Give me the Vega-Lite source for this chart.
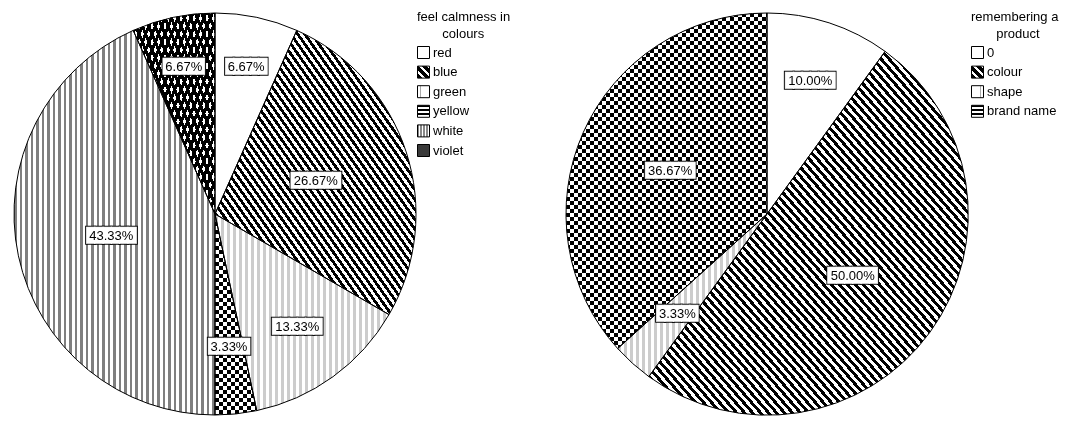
{
  "$schema": "https://vega.github.io/schema/vega-lite/v6.json",
  "padding": {"left": 12, "top": 9, "right": 0, "bottom": 0},
  "background": "white",
  "bounds": "flush",
  "spacing": 150,
  "config": {
    "view": {"stroke": null},
    "legend": {
      "titleFont": "Liberation Sans", "titleFontSize": 13, "titleFontWeight": "normal", "titleColor": "#000",
      "titleLineHeight": 17, "titlePadding": 5, "titleAnchor": "start", "titleAlign": "left",
      "labelFont": "Liberation Sans", "labelFontSize": 13, "labelColor": "#000", "labelOffset": 3,
      "rowPadding": 2.6, "padding": 0, "symbolOffset": 0
    }
  },
  "params": [
    {"name": "K", "value": "#000"},
    {"name": "W", "value": "#fff"},
    {"name": "G", "value": "#888"},
    {"name": "L", "value": "#aaa"},
    {"name": "s80", "expr": "[{offset:0,color:K},{offset:.00625,color:K},{offset:.00625,color:W},{offset:.0125,color:W},{offset:.0125,color:K},{offset:.01875,color:K},{offset:.01875,color:W},{offset:.025,color:W},{offset:.025,color:K},{offset:.03125,color:K},{offset:.03125,color:W},{offset:.0375,color:W},{offset:.0375,color:K},{offset:.04375,color:K},{offset:.04375,color:W},{offset:.05,color:W},{offset:.05,color:K},{offset:.05625,color:K},{offset:.05625,color:W},{offset:.0625,color:W},{offset:.0625,color:K},{offset:.06875,color:K},{offset:.06875,color:W},{offset:.075,color:W},{offset:.075,color:K},{offset:.08125,color:K},{offset:.08125,color:W},{offset:.0875,color:W},{offset:.0875,color:K},{offset:.09375,color:K},{offset:.09375,color:W},{offset:.1,color:W},{offset:.1,color:K},{offset:.10625,color:K},{offset:.10625,color:W},{offset:.1125,color:W},{offset:.1125,color:K},{offset:.11875,color:K},{offset:.11875,color:W},{offset:.125,color:W},{offset:.125,color:K},{offset:.13125,color:K},{offset:.13125,color:W},{offset:.1375,color:W},{offset:.1375,color:K},{offset:.14375,color:K},{offset:.14375,color:W},{offset:.15,color:W},{offset:.15,color:K},{offset:.15625,color:K},{offset:.15625,color:W},{offset:.1625,color:W},{offset:.1625,color:K},{offset:.16875,color:K},{offset:.16875,color:W},{offset:.175,color:W},{offset:.175,color:K},{offset:.18125,color:K},{offset:.18125,color:W},{offset:.1875,color:W},{offset:.1875,color:K},{offset:.19375,color:K},{offset:.19375,color:W},{offset:.2,color:W},{offset:.2,color:K},{offset:.20625,color:K},{offset:.20625,color:W},{offset:.2125,color:W},{offset:.2125,color:K},{offset:.21875,color:K},{offset:.21875,color:W},{offset:.225,color:W},{offset:.225,color:K},{offset:.23125,color:K},{offset:.23125,color:W},{offset:.2375,color:W},{offset:.2375,color:K},{offset:.24375,color:K},{offset:.24375,color:W},{offset:.25,color:W},{offset:.25,color:K},{offset:.25625,color:K},{offset:.25625,color:W},{offset:.2625,color:W},{offset:.2625,color:K},{offset:.26875,color:K},{offset:.26875,color:W},{offset:.275,color:W},{offset:.275,color:K},{offset:.28125,color:K},{offset:.28125,color:W},{offset:.2875,color:W},{offset:.2875,color:K},{offset:.29375,color:K},{offset:.29375,color:W},{offset:.3,color:W},{offset:.3,color:K},{offset:.30625,color:K},{offset:.30625,color:W},{offset:.3125,color:W},{offset:.3125,color:K},{offset:.31875,color:K},{offset:.31875,color:W},{offset:.325,color:W},{offset:.325,color:K},{offset:.33125,color:K},{offset:.33125,color:W},{offset:.3375,color:W},{offset:.3375,color:K},{offset:.34375,color:K},{offset:.34375,color:W},{offset:.35,color:W},{offset:.35,color:K},{offset:.35625,color:K},{offset:.35625,color:W},{offset:.3625,color:W},{offset:.3625,color:K},{offset:.36875,color:K},{offset:.36875,color:W},{offset:.375,color:W},{offset:.375,color:K},{offset:.38125,color:K},{offset:.38125,color:W},{offset:.3875,color:W},{offset:.3875,color:K},{offset:.39375,color:K},{offset:.39375,color:W},{offset:.4,color:W},{offset:.4,color:K},{offset:.40625,color:K},{offset:.40625,color:W},{offset:.4125,color:W},{offset:.4125,color:K},{offset:.41875,color:K},{offset:.41875,color:W},{offset:.425,color:W},{offset:.425,color:K},{offset:.43125,color:K},{offset:.43125,color:W},{offset:.4375,color:W},{offset:.4375,color:K},{offset:.44375,color:K},{offset:.44375,color:W},{offset:.45,color:W},{offset:.45,color:K},{offset:.45625,color:K},{offset:.45625,color:W},{offset:.4625,color:W},{offset:.4625,color:K},{offset:.46875,color:K},{offset:.46875,color:W},{offset:.475,color:W},{offset:.475,color:K},{offset:.48125,color:K},{offset:.48125,color:W},{offset:.4875,color:W},{offset:.4875,color:K},{offset:.49375,color:K},{offset:.49375,color:W},{offset:.5,color:W},{offset:.5,color:K},{offset:.50625,color:K},{offset:.50625,color:W},{offset:.5125,color:W},{offset:.5125,color:K},{offset:.51875,color:K},{offset:.51875,color:W},{offset:.525,color:W},{offset:.525,color:K},{offset:.53125,color:K},{offset:.53125,color:W},{offset:.5375,color:W},{offset:.5375,color:K},{offset:.54375,color:K},{offset:.54375,color:W},{offset:.55,color:W},{offset:.55,color:K},{offset:.55625,color:K},{offset:.55625,color:W},{offset:.5625,color:W},{offset:.5625,color:K},{offset:.56875,color:K},{offset:.56875,color:W},{offset:.575,color:W},{offset:.575,color:K},{offset:.58125,color:K},{offset:.58125,color:W},{offset:.5875,color:W},{offset:.5875,color:K},{offset:.59375,color:K},{offset:.59375,color:W},{offset:.6,color:W},{offset:.6,color:K},{offset:.60625,color:K},{offset:.60625,color:W},{offset:.6125,color:W},{offset:.6125,color:K},{offset:.61875,color:K},{offset:.61875,color:W},{offset:.625,color:W},{offset:.625,color:K},{offset:.63125,color:K},{offset:.63125,color:W},{offset:.6375,color:W},{offset:.6375,color:K},{offset:.64375,color:K},{offset:.64375,color:W},{offset:.65,color:W},{offset:.65,color:K},{offset:.65625,color:K},{offset:.65625,color:W},{offset:.6625,color:W},{offset:.6625,color:K},{offset:.66875,color:K},{offset:.66875,color:W},{offset:.675,color:W},{offset:.675,color:K},{offset:.68125,color:K},{offset:.68125,color:W},{offset:.6875,color:W},{offset:.6875,color:K},{offset:.69375,color:K},{offset:.69375,color:W},{offset:.7,color:W},{offset:.7,color:K},{offset:.70625,color:K},{offset:.70625,color:W},{offset:.7125,color:W},{offset:.7125,color:K},{offset:.71875,color:K},{offset:.71875,color:W},{offset:.725,color:W},{offset:.725,color:K},{offset:.73125,color:K},{offset:.73125,color:W},{offset:.7375,color:W},{offset:.7375,color:K},{offset:.74375,color:K},{offset:.74375,color:W},{offset:.75,color:W},{offset:.75,color:K},{offset:.75625,color:K},{offset:.75625,color:W},{offset:.7625,color:W},{offset:.7625,color:K},{offset:.76875,color:K},{offset:.76875,color:W},{offset:.775,color:W},{offset:.775,color:K},{offset:.78125,color:K},{offset:.78125,color:W},{offset:.7875,color:W},{offset:.7875,color:K},{offset:.79375,color:K},{offset:.79375,color:W},{offset:.8,color:W},{offset:.8,color:K},{offset:.80625,color:K},{offset:.80625,color:W},{offset:.8125,color:W},{offset:.8125,color:K},{offset:.81875,color:K},{offset:.81875,color:W},{offset:.825,color:W},{offset:.825,color:K},{offset:.83125,color:K},{offset:.83125,color:W},{offset:.8375,color:W},{offset:.8375,color:K},{offset:.84375,color:K},{offset:.84375,color:W},{offset:.85,color:W},{offset:.85,color:K},{offset:.85625,color:K},{offset:.85625,color:W},{offset:.8625,color:W},{offset:.8625,color:K},{offset:.86875,color:K},{offset:.86875,color:W},{offset:.875,color:W},{offset:.875,color:K},{offset:.88125,color:K},{offset:.88125,color:W},{offset:.8875,color:W},{offset:.8875,color:K},{offset:.89375,color:K},{offset:.89375,color:W},{offset:.9,color:W},{offset:.9,color:K},{offset:.90625,color:K},{offset:.90625,color:W},{offset:.9125,color:W},{offset:.9125,color:K},{offset:.91875,color:K},{offset:.91875,color:W},{offset:.925,color:W},{offset:.925,color:K},{offset:.93125,color:K},{offset:.93125,color:W},{offset:.9375,color:W},{offset:.9375,color:K},{offset:.94375,color:K},{offset:.94375,color:W},{offset:.95,color:W},{offset:.95,color:K},{offset:.95625,color:K},{offset:.95625,color:W},{offset:.9625,color:W},{offset:.9625,color:K},{offset:.96875,color:K},{offset:.96875,color:W},{offset:.975,color:W},{offset:.975,color:K},{offset:.98125,color:K},{offset:.98125,color:W},{offset:.9875,color:W},{offset:.9875,color:K},{offset:.99375,color:K},{offset:.99375,color:W},{offset:1,color:W}]"},
    {"name": "gBlueL", "expr": "{gradient:'linear',x1:0,y1:1,x2:1.39,y2:-0.39,stops:s80}"},
    {"name": "gGreenL", "expr": "{gradient:'linear',x1:0,y1:0,x2:2.76,y2:0,stops:s80}"},
    {"name": "gYH", "expr": "{gradient:'linear',x1:0,y1:0,x2:0,y2:3.18,stops:s80}"},
    {"name": "gYV", "expr": "{gradient:'linear',x1:0,y1:0,x2:15.3,y2:0,stops:s80}"},
    {"name": "gWhiteL", "expr": "{gradient:'linear',x1:0,y1:0,x2:2.19,y2:0,stops:s80}"},
    {"name": "gVioA", "expr": "{gradient:'linear',x1:0,y1:1,x2:3.16,y2:-2.16,stops:s80}"},
    {"name": "gVioB", "expr": "{gradient:'linear',x1:0,y1:0,x2:3.16,y2:3.16,stops:s80}"},
    {"name": "gColR", "expr": "{gradient:'linear',x1:0,y1:1,x2:1,y2:0,stops:s80}"},
    {"name": "gShR", "expr": "{gradient:'linear',x1:0,y1:0,x2:3.21,y2:0,stops:s80}"},
    {"name": "gBrH", "expr": "{gradient:'linear',x1:0,y1:0,x2:0,y2:1.91,stops:s80}"},
    {"name": "gBrV", "expr": "{gradient:'linear',x1:0,y1:0,x2:3.18,y2:0,stops:s80}"},
    {"name": "lgD", "expr": "{gradient:'linear',x1:0,y1:1,x2:1,y2:0,stops:[{offset:0,color:K},{offset:.2,color:K},{offset:.2,color:W},{offset:.333,color:W},{offset:.333,color:K},{offset:.533,color:K},{offset:.533,color:W},{offset:.667,color:W},{offset:.667,color:K},{offset:.867,color:K},{offset:.867,color:W},{offset:1,color:W}]}"},
    {"name": "lgWg", "expr": "{gradient:'linear',x1:0,y1:0,x2:1,y2:0,stops:[{offset:0,color:G},{offset:.125,color:G},{offset:.125,color:W},{offset:.25,color:W},{offset:.25,color:G},{offset:.375,color:G},{offset:.375,color:W},{offset:.5,color:W},{offset:.5,color:G},{offset:.625,color:G},{offset:.625,color:W},{offset:.75,color:W},{offset:.75,color:G},{offset:.875,color:G},{offset:.875,color:W},{offset:1,color:W}]}"},
    {"name": "lgGl", "expr": "{gradient:'linear',x1:0,y1:0,x2:1,y2:0,stops:[{offset:0,color:W},{offset:.25,color:W},{offset:.25,color:L},{offset:.33,color:L},{offset:.33,color:W},{offset:.67,color:W},{offset:.67,color:L},{offset:.75,color:L},{offset:.75,color:W},{offset:1,color:W}]}"},
    {"name": "lgChk", "expr": "{gradient:'linear',x1:0,y1:0,x2:0,y2:1,stops:[{offset:0,color:K},{offset:.167,color:K},{offset:.167,color:W},{offset:.333,color:W},{offset:.333,color:K},{offset:.5,color:K},{offset:.5,color:W},{offset:.667,color:W},{offset:.667,color:K},{offset:.833,color:K},{offset:.833,color:W},{offset:1,color:W}]}"}
  ],
  "hconcat": [
    {
      "width": 402,
      "height": 410,
      "data": {"values": [
        {"colour": "red", "code": 1, "pct": 6.67, "label": "6.67%"},
        {"colour": "blue", "code": 2, "pct": 26.67, "label": "26.67%"},
        {"colour": "green", "code": 3, "pct": 13.33, "label": "13.33%"},
        {"colour": "yellow", "code": 4, "pct": 3.33, "label": "3.33%"},
        {"colour": "white", "code": 5, "pct": 43.33, "label": "43.33%"},
        {"colour": "violet", "code": 6, "pct": 6.67, "label": "6.67%"}
      ]},
      "encoding": {
        "theta": {"field": "pct", "type": "quantitative", "stack": true},
        "order": {"field": "code", "type": "quantitative"},
        "detail": {"field": "colour", "type": "nominal"}
      },
      "resolve": {"scale": {"fill": "independent"}},
      "layer": [
        {
          "mark": {"type": "arc", "radius": 0, "stroke": "#000", "strokeWidth": 1},
          "encoding": {
            "fill": {
              "field": "colour", "type": "nominal",
              "scale": {
                "domain": ["red", "blue", "green", "yellow", "white", "violet"],
                "range": ["#fff", {"expr": "lgD"}, {"expr": "lgGl"}, {"expr": "lgChk"}, {"expr": "lgWg"}, "#3a3a3a"]
              },
              "legend": {
                "title": ["feel calmness in", "\u200b\u00a0\u00a0\u00a0\u00a0\u00a0\u00a0\u00a0colours"],
                "orient": "none", "legendX": 403, "legendY": 2,
                "symbolType": "square", "symbolSize": 144, "symbolStrokeColor": "#000", "symbolStrokeWidth": 1
              }
            }
          }
        },
        {
          "mark": {"type": "arc", "fillOpacity": {"expr": "datum.colour === 'green' ? 0.2 : datum.colour === 'white' ? 0.5 : 1"}},
          "encoding": {
            "fill": {
              "field": "colour", "type": "nominal",
              "scale": {
                "domain": ["red", "blue", "green", "yellow", "white", "violet"],
                "range": ["#fff", {"expr": "gBlueL"}, {"expr": "gGreenL"}, {"expr": "gYH"}, {"expr": "gWhiteL"}, {"expr": "gVioA"}]
              },
              "legend": null
            }
          }
        },
        {"mark": {"type": "arc", "blend": "difference", "fill": {"expr": "datum.colour === 'yellow' ? gYV : 'transparent'"}}},
        {"mark": {"type": "arc", "blend": "multiply", "fill": {"expr": "datum.colour === 'violet' ? gVioB : 'transparent'"}}},
        {"mark": {"type": "arc", "fillOpacity": 0, "stroke": "#000", "strokeWidth": 1}},
        {"mark": {"type": "text", "text": {"expr": "length(datum.label) > 5 ? '██████' : '█████'"}, "font": "DejaVu Sans Mono", "fontSize": 13.8, "radius": {"expr": "datum.pct < 5 ? 134 : datum.pct < 8 ? 150 : datum.pct < 25 ? 140 : 106"}, "fill": "#000", "stroke": "#000", "strokeWidth": 2.6, "align": "center", "baseline": "middle"}},
        {"mark": {"type": "text", "text": {"expr": "length(datum.label) > 5 ? '██████' : '█████'"}, "font": "DejaVu Sans Mono", "fontSize": 13.8, "radius": {"expr": "datum.pct < 5 ? 134 : datum.pct < 8 ? 150 : datum.pct < 25 ? 140 : 106"}, "fill": "#fff", "stroke": "#fff", "strokeWidth": 0.6, "align": "center", "baseline": "middle"}},
        {"mark": {"type": "text", "font": "Liberation Sans", "fontSize": 13, "radius": {"expr": "datum.pct < 5 ? 134 : datum.pct < 8 ? 150 : datum.pct < 25 ? 140 : 106"}, "fill": "#000", "align": "center", "baseline": "middle"},
         "encoding": {"text": {"field": "label", "type": "nominal"}}}
      ]
    },
    {
      "width": 402,
      "height": 410,
      "data": {"values": [
        {"remember": "0", "code": 1, "pct": 10.0, "label": "10.00%"},
        {"remember": "colour", "code": 2, "pct": 50.0, "label": "50.00%"},
        {"remember": "shape", "code": 3, "pct": 3.33, "label": "3.33%"},
        {"remember": "brand name", "code": 4, "pct": 36.67, "label": "36.67%"}
      ]},
      "encoding": {
        "theta": {"field": "pct", "type": "quantitative", "stack": true},
        "order": {"field": "code", "type": "quantitative"},
        "detail": {"field": "remember", "type": "nominal"}
      },
      "resolve": {"scale": {"fill": "independent"}},
      "layer": [
        {
          "mark": {"type": "arc", "radius": 0, "stroke": "#000", "strokeWidth": 1},
          "encoding": {
            "fill": {
              "field": "remember", "type": "nominal",
              "scale": {
                "domain": ["0", "colour", "shape", "brand name"],
                "range": ["#fff", {"expr": "lgD"}, {"expr": "lgGl"}, {"expr": "lgChk"}]
              },
              "legend": {
                "title": ["remembering a", "\u200b\u00a0\u00a0\u00a0\u00a0\u00a0\u00a0\u00a0product"],
                "orient": "none", "legendX": 405, "legendY": 2,
                "symbolType": "square", "symbolSize": 144, "symbolStrokeColor": "#000", "symbolStrokeWidth": 1
              }
            }
          }
        },
        {
          "mark": {"type": "arc", "fillOpacity": {"expr": "datum.remember === 'shape' ? 0.2 : 1"}},
          "encoding": {
            "fill": {
              "field": "remember", "type": "nominal",
              "scale": {
                "domain": ["0", "colour", "shape", "brand name"],
                "range": ["#fff", {"expr": "gColR"}, {"expr": "gShR"}, {"expr": "gBrH"}]
              },
              "legend": null
            }
          }
        },
        {"mark": {"type": "arc", "blend": "difference", "fill": {"expr": "datum.remember === 'brand name' ? gBrV : 'transparent'"}}},
        {"mark": {"type": "arc", "fillOpacity": 0, "stroke": "#000", "strokeWidth": 1}},
        {"mark": {"type": "text", "text": {"expr": "length(datum.label) > 5 ? '██████' : '█████'"}, "font": "DejaVu Sans Mono", "fontSize": 13.8, "radius": {"expr": "datum.pct < 5 ? 134 : datum.pct < 8 ? 150 : datum.pct < 25 ? 140 : 106"}, "fill": "#000", "stroke": "#000", "strokeWidth": 2.6, "align": "center", "baseline": "middle"}},
        {"mark": {"type": "text", "text": {"expr": "length(datum.label) > 5 ? '██████' : '█████'"}, "font": "DejaVu Sans Mono", "fontSize": 13.8, "radius": {"expr": "datum.pct < 5 ? 134 : datum.pct < 8 ? 150 : datum.pct < 25 ? 140 : 106"}, "fill": "#fff", "stroke": "#fff", "strokeWidth": 0.6, "align": "center", "baseline": "middle"}},
        {"mark": {"type": "text", "font": "Liberation Sans", "fontSize": 13, "radius": {"expr": "datum.pct < 5 ? 134 : datum.pct < 8 ? 150 : datum.pct < 25 ? 140 : 106"}, "fill": "#000", "align": "center", "baseline": "middle"},
         "encoding": {"text": {"field": "label", "type": "nominal"}}}
      ]
    }
  ]
}
